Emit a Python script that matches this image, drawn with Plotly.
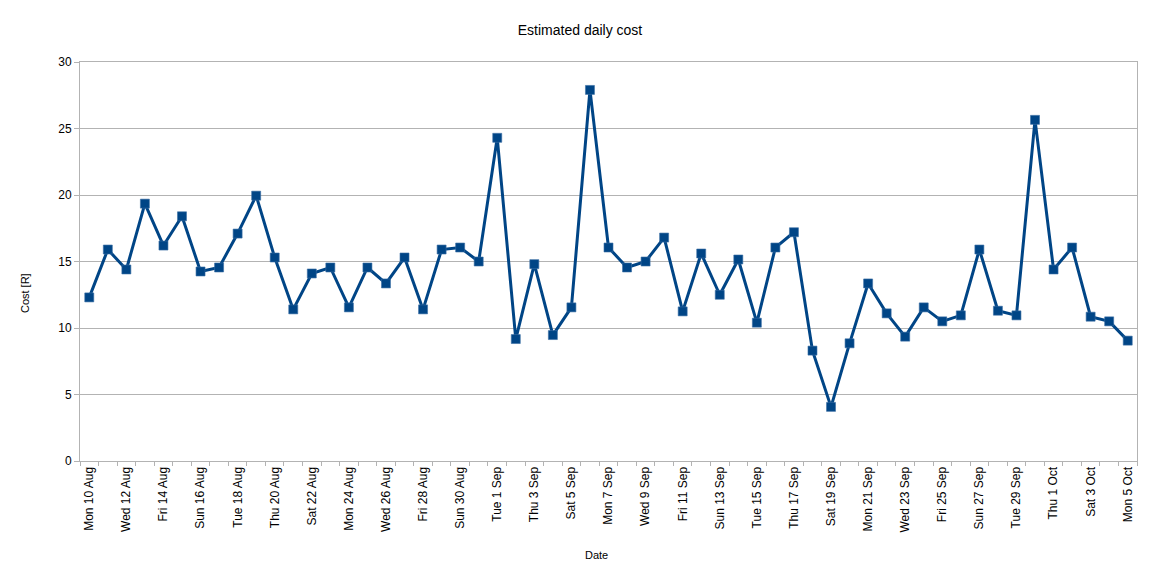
import pandas as pd
import plotly.graph_objects as go

# daily cost estimates, Mon 10 Aug 2015 .. Mon 5 Oct 2015
start_date = '2015-08-10'
cost = [12.3, 15.9, 14.4, 19.35, 16.2, 18.4, 14.25, 14.55, 17.1, 19.95,
        15.3, 11.4, 14.1, 14.55, 11.55, 14.55, 13.35, 15.3, 11.4, 15.9,
        16.05, 15.0, 24.3, 9.17, 14.8, 9.47, 11.55, 27.9, 16.05, 14.55,
        15.0, 16.8, 11.25, 15.6, 12.5, 15.15, 10.4, 16.05, 17.2, 8.3,
        4.07, 8.85, 13.35, 11.1, 9.35, 11.55, 10.5, 10.95, 15.9, 11.3,
        10.95, 25.65, 14.4, 16.05, 10.85, 10.5, 9.05]
dates = pd.date_range(start_date, periods=len(cost), freq='D')

blue = '#004586'
grey = '#b3b3b3'
day_ms = 86400000

fig = go.Figure()
fig.add_trace(go.Scatter(x=dates, y=cost, mode='lines+markers',
                         line=dict(color=blue, width=3),
                         marker=dict(symbol='square', size=9, color=blue,
                                     line=dict(color='#3a6ea5', width=0.6)),
                         showlegend=False))

half = pd.Timedelta(hours=12)
fig.update_xaxes(type='date',
                 range=[dates[0] - half, dates[-1] + half],
                 tick0=dates[0], dtick=2 * day_ms,
                 tickformat='%a %-d %b', tickangle=-90,
                 ticks='', showgrid=False, zeroline=False,
                 showline=True, linecolor=grey, linewidth=1, mirror=True,
                 tickfont=dict(size=12, color='black'),
                 minor=dict(tick0=dates[0] - half, dtick=day_ms,
                            ticks='outside', ticklen=4, tickcolor=grey,
                            tickwidth=1, showgrid=False))
fig.update_yaxes(range=[0, 30], dtick=5, showgrid=True, gridcolor=grey,
                 gridwidth=1, zeroline=False,
                 showline=True, linecolor=grey, linewidth=1, mirror=True,
                 ticks='outside', ticklen=5, tickcolor=grey,
                 tickfont=dict(size=12, color='black'))

fig.add_annotation(text='Cost [R]', xref='paper', yref='paper',
                   x=-0.052, y=0.421, xanchor='center', yanchor='middle',
                   textangle=-90, showarrow=False,
                   font=dict(size=11, color='black'))
fig.add_annotation(text='Date', xref='paper', yref='paper',
                   x=0.489, y=-0.236, xanchor='center', yanchor='middle',
                   showarrow=False,
                   font=dict(size=11, color='black'))

# page body has an 8px margin, so the figure is 8px smaller and shifted
fig.update_layout(width=1152, height=571,
                  margin=dict(l=72, r=23, t=54, b=118),
                  font=dict(family='Liberation Sans, Arial, sans-serif'),
                  title=dict(text='Estimated daily cost', x=(580 - 8) / 1152,
                             xref='container',
                             y=1 - 22 / 571, yref='container', yanchor='middle',
                             xanchor='center',
                             font=dict(size=14, color='black')),
                  plot_bgcolor='white', paper_bgcolor='white')

fig.write_html('out.html')
